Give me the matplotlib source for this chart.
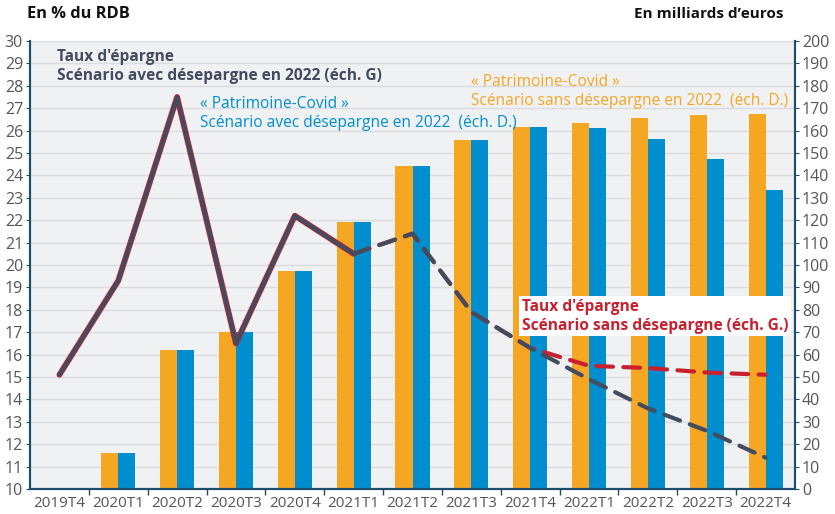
import matplotlib
matplotlib.use("Agg")
import matplotlib.pyplot as plt
import numpy as np

plt.rcParams['font.family'] = ['Open Sans', 'DejaVu Sans']

quarters = ["2019T4", "2020T1", "2020T2", "2020T3", "2020T4", "2021T1", "2021T2",
            "2021T3", "2021T4", "2022T1", "2022T2", "2022T3", "2022T4"]
# Patrimoine-Covid (billions EUR, right axis)
patr_sans = [np.nan, 16, 62, 70, 97.5, 119, 144, 156, 161.5, 163.5, 165.5, 166.8, 167.5]
patr_avec = [np.nan, 16, 62, 70, 97.5, 119, 144, 156, 161.5, 161, 156.3, 147.2, 133.5]
# Savings rate (% of disposable income, left axis)
taux_hist = [15.1, 19.3, 27.5, 16.5, 22.2, 20.5]          # 2019T4..2021T1 (solid)
taux_avec = [20.5, 21.4, 17.9, 16.3, 14.9, 13.6, 12.6, 11.4]  # 2021T1..2022T4 (dashed)
taux_sans = [20.5, 21.4, 17.9, 16.3, 15.5, 15.4, 15.2, 15.1]  # 2021T1..2022T4 (dashed)

ORANGE = "#F5A623"
BLUE = "#008ECE"
DARK = "#434B5E"
RED = "#C8202F"
SPINE = "#1F4E6B"
TXT = "#555555"

fig = plt.figure(figsize=(8.35, 5.14), dpi=100)
ax = fig.add_axes([30/835, 25/514, 765/835, 448/514])
ax2 = ax.twinx()

x = np.arange(len(quarters))
w = 0.29
ax2.bar(x - w/2, patr_sans, width=w, color=ORANGE, zorder=2)
ax2.bar(x + w/2, patr_avec, width=w, color=BLUE, zorder=2)
ax2.set_ylim(0, 200)
ax2.set_yticks(np.arange(0, 201, 10))

# lines on top: put ax2 behind ax
ax.set_zorder(ax2.get_zorder() + 1)
ax.patch.set_visible(False)
ax2.patch.set_visible(True)
ax2.patch.set_facecolor("#F0F1F3")

ax.set_ylim(10, 30)
ax.set_yticks(np.arange(10, 31, 1))
ax.set_xlim(-0.5, 12.5)
for yv in np.arange(11, 31, 1):
    ax2.axhline((yv - 10) * 10, color="#DADCE0", lw=1.0, zorder=1)

xh = x[:6]
xf = x[5:]
ax.plot(xh, taux_hist, color=RED, lw=4.2, solid_capstyle='round', zorder=3)
ax.plot(xh, taux_hist, color=DARK, lw=3.0, solid_capstyle='round', zorder=4)
ax.plot(xf, taux_sans, color=RED, lw=3.0, dashes=(4, 2.5), dash_capstyle='round', zorder=3)
ax.plot(xf, taux_avec, color=DARK, lw=3.0, dashes=(4, 2.5), dash_capstyle='round', zorder=4)

# x ticks
ax.set_xticks(np.arange(0.5, 12.5, 1))
ax.set_xticklabels([])
ax.set_xticks(x, minor=True)
ax.set_xticklabels(quarters, minor=True)
ax.tick_params(axis='x', which='major', length=4, color=SPINE, width=1)
ax.tick_params(axis='x', which='minor', length=0, pad=5, labelsize=11, labelcolor=TXT)
ax.tick_params(axis='y', length=3, color=SPINE, labelsize=11.5, labelcolor=TXT, pad=2)
ax2.tick_params(axis='y', length=3, color=SPINE, labelsize=11.5, labelcolor=TXT, pad=2)

for a in (ax, ax2):
    a.spines['top'].set_visible(False)
    for s in ('left', 'right', 'bottom'):
        a.spines[s].set_color(SPINE)
        a.spines[s].set_linewidth(1.5)

fig.text(27/835, 1 - 14/514, "En % du RDB", fontsize=11.8, fontweight='bold', color="#111111", va='center', ha='left')
fig.text(783/835, 1 - 14/514, "En milliards d\u2019euros", fontsize=11, fontweight='bold', color="#111111", va='center', ha='right')

ax.text(-0.04, 28.86, "Taux d'épargne\nScénario avec désepargne en 2022 (éch. G)", fontsize=11.2,
        fontweight='bold', color=DARK, va='center', ha='left', linespacing=1.25, zorder=6)
ax.text(2.39, 26.75, "« Patrimoine-Covid »\nScénario avec désepargne en 2022  (éch. D.)", fontsize=11.2,
        color=BLUE, va='center', ha='left', linespacing=1.25, zorder=6)
ax.text(6.99, 27.75, "« Patrimoine-Covid »\nScénario sans désepargne en 2022  (éch. D.)", fontsize=11.2,
        color=ORANGE, va='center', ha='left', linespacing=1.25, zorder=6)
ax.text(7.86, 17.72, "Taux d'épargne\nScénario sans désepargne (éch. G.)", fontsize=11.2,
        fontweight='bold', color=RED, va='center', ha='left', linespacing=1.25, zorder=6,
        bbox=dict(facecolor='white', edgecolor='none', pad=2))

fig.savefig("out.png", dpi=100, facecolor='white')
